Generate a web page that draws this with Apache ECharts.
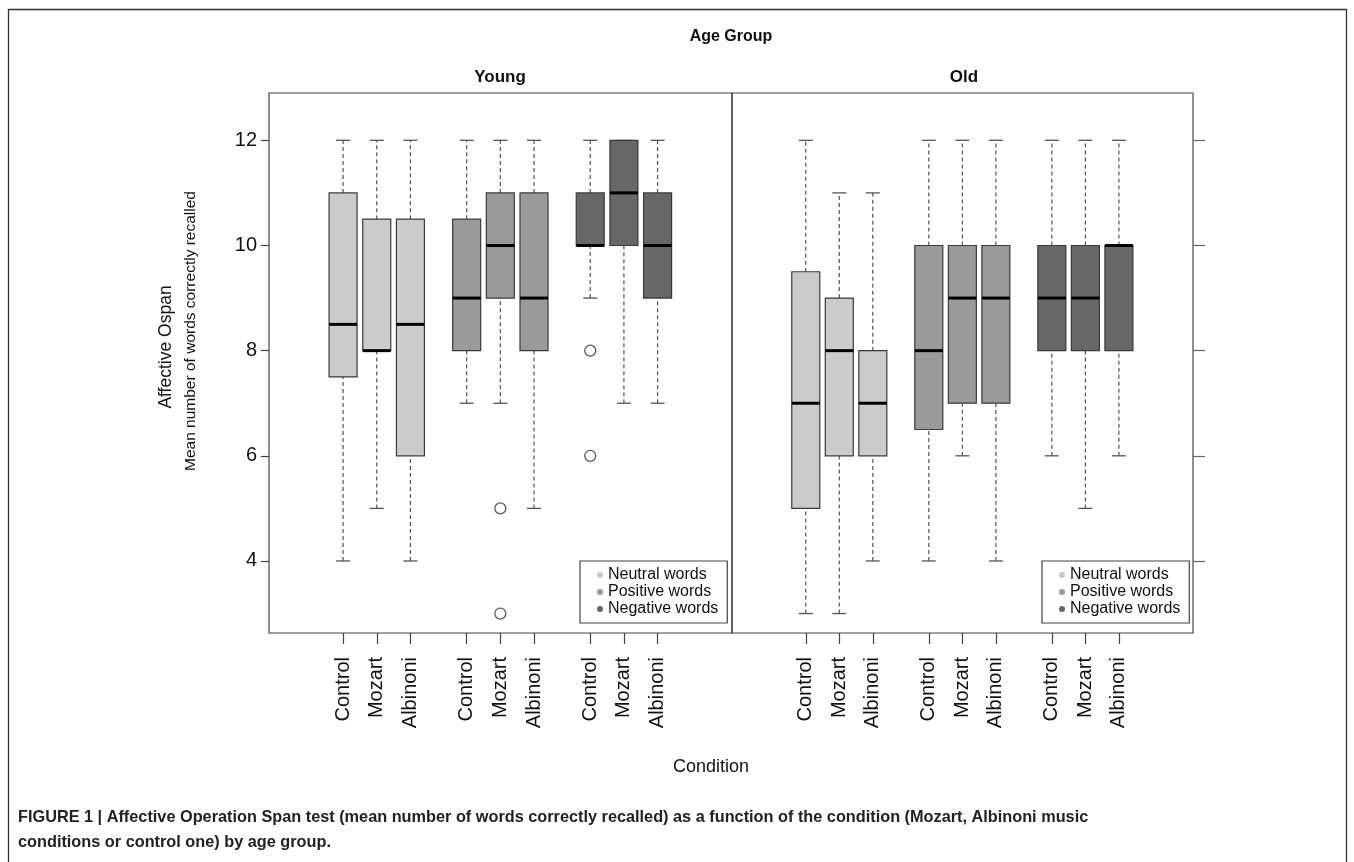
<!DOCTYPE html>
<html><head><meta charset="utf-8">
<script src="https://cdn.jsdelivr.net/npm/echarts@6/dist/echarts.min.js"></script>
<style>html,body{margin:0;padding:0;background:#fff}#c{width:1354px;height:862px}</style>
</head><body><div id="c"></div>
<script>
// ---------- data ----------
const panels = ['Young', 'Old'];
const groups = ['Neutral words', 'Positive words', 'Negative words'];
const conditions = ['Control', 'Mozart', 'Albinoni'];
const groupColors = ['#cbcbcb', '#9a9a9a', '#676767'];
// each row: [lower whisker, Q1, median, Q3, upper whisker] for Control, Mozart, Albinoni
const youngNeutral  = [[4, 7.5, 8.5, 11, 12], [5, 8, 8, 10.5, 12], [4, 6, 8.5, 10.5, 12]];
const youngPositive = [[7, 8, 9, 10.5, 12], [7, 9, 10, 11, 12], [5, 8, 9, 11, 12]];
const youngNegative = [[9, 10, 10, 11, 12], [7, 10, 11, 12, 12], [7, 9, 10, 11, 12]];
const oldNeutral    = [[3, 5, 7, 9.5, 12], [3, 6, 8, 9, 11], [4, 6, 7, 8, 11]];
const oldPositive   = [[4, 6.5, 8, 10, 12], [6, 7, 9, 10, 12], [4, 7, 9, 10, 12]];
const oldNegative   = [[6, 8, 9, 10, 12], [5, 8, 9, 10, 12], [6, 8, 10, 10, 12]];
// outliers: [group index, condition index, value]
const youngOutliers = [[1, 1, 5], [1, 1, 3], [2, 0, 8], [2, 0, 6]];
const oldOutliers = [];
const yTicks = [4, 6, 8, 10, 12];

const panelData = [[youngNeutral, youngPositive, youngNegative], [oldNeutral, oldPositive, oldNegative]];
const panelOutliers = [youngOutliers, oldOutliers];

// ---------- layout helpers ----------
const GROUP_STEP = 3.67;
function pos(g, c) { return g * GROUP_STEP + c + 1; }
const tickPositions = [];
for (let g = 0; g < 3; g++) for (let c = 0; c < 3; c++) tickPositions.push(pos(g, c));
function labelFor(v) {
  for (let i = 0; i < tickPositions.length; i++) if (Math.abs(tickPositions[i] - v) < 1e-6) return conditions[i % 3];
  return '';
}
const narrow = '"Liberation Sans Narrow", "Arial Narrow", "Liberation Sans", sans-serif';
const regular = '"Liberation Sans", Arial, sans-serif';

function renderBox(params, api) {
  const x = api.value(0);
  const pLo = api.coord([x, api.value(1)]);
  const pQ1 = api.coord([x, api.value(2)]);
  const pMd = api.coord([x, api.value(3)]);
  const pQ3 = api.coord([x, api.value(4)]);
  const pHi = api.coord([x, api.value(5)]);
  const cx = pLo[0];
  const hw = 14, cap = 7;
  const dash = { stroke: '#555', lineWidth: 1.2, lineDash: [4, 3] };
  const solid = { stroke: '#555', lineWidth: 1.3 };
  return {
    type: 'group',
    children: [
      { type: 'line', shape: { x1: cx, y1: pQ3[1], x2: cx, y2: pHi[1] }, style: dash },
      { type: 'line', shape: { x1: cx, y1: pLo[1], x2: cx, y2: pQ1[1] }, style: dash },
      { type: 'line', shape: { x1: cx - cap, y1: pHi[1], x2: cx + cap, y2: pHi[1] }, style: solid },
      { type: 'line', shape: { x1: cx - cap, y1: pLo[1], x2: cx + cap, y2: pLo[1] }, style: solid },
      { type: 'rect', shape: { x: cx - hw, y: pQ3[1], width: hw * 2, height: pQ1[1] - pQ3[1] },
        style: { fill: api.visual('color'), stroke: '#3a3a3a', lineWidth: 1.2 } },
      { type: 'line', shape: { x1: cx - hw, y1: pMd[1], x2: cx + hw, y2: pMd[1] }, style: { stroke: '#000', lineWidth: 3 } }
    ]
  };
}

const grids = [
  { left: 269, top: 93, width: 463, height: 540 },
  { left: 732, top: 93, width: 461, height: 540 }
].map(g => Object.assign(g, { show: true, borderColor: '#444', borderWidth: 1.2, backgroundColor: 'transparent' }));

const xAxes = [0, 1].map(p => ({
  type: 'value', gridIndex: p, min: -1.2, max: 12.55, position: 'bottom',
  axisLine: { show: false, onZero: false }, splitLine: { show: false },
  axisTick: { show: true, customValues: tickPositions, length: 11, lineStyle: { color: '#444', width: 1.2 } },
  axisLabel: { show: true, customValues: tickPositions, rotate: 90, margin: 24, formatter: labelFor,
    fontSize: 20, color: '#111', fontFamily: regular }
}));

const yAxes = [
  { type: 'value', gridIndex: 0, min: 2.63, max: 12.9, position: 'left',
    axisLine: { show: false, onZero: false }, splitLine: { show: false },
    axisTick: { show: true, customValues: yTicks, length: 8, lineStyle: { color: '#444', width: 1.2 } },
    axisLabel: { show: true, customValues: yTicks, margin: 12, fontSize: 20, color: '#111', fontFamily: regular } },
  { type: 'value', gridIndex: 1, min: 2.63, max: 12.9, position: 'right',
    axisLine: { show: false, onZero: false }, splitLine: { show: false },
    axisTick: { show: true, customValues: yTicks, length: 12, lineStyle: { color: '#666', width: 1.2 } },
    axisLabel: { show: false } }
];

const series = [];
for (let p = 0; p < 2; p++) {
  for (let g = 0; g < 3; g++) {
    series.push({
      type: 'custom', name: groups[g], xAxisIndex: p, yAxisIndex: p,
      itemStyle: { color: groupColors[g] },
      renderItem: renderBox,
      encode: { x: 0, y: [1, 2, 3, 4, 5] },
      data: panelData[p][g].map((s, c) => [pos(g, c)].concat(s)),
      z: 2
    });
  }
  if (panelOutliers[p].length) {
    series.push({
      type: 'scatter', name: 'outliers', xAxisIndex: p, yAxisIndex: p,
      symbol: 'circle', symbolSize: 11,
      itemStyle: { color: '#fff', borderColor: '#333', borderWidth: 1.3 },
      data: panelOutliers[p].map(o => [pos(o[0], o[1]), o[2]]),
      z: 3
    });
  }
}

const legendBase = {
  data: groups, orient: 'vertical', top: 561, icon: 'circle', itemWidth: 6, itemHeight: 6, itemGap: 1,
  padding: [6, 9, 6, 17], backgroundColor: '#fff', borderColor: '#444', borderWidth: 1.2, borderRadius: 0,
  selectedMode: false, textStyle: { fontSize: 16, color: '#111', fontFamily: regular }, z: 5
};

const chart = echarts.init(document.getElementById('c'));
chart.setOption({
  backgroundColor: '#fff',
  animation: false,
  grid: grids, xAxis: xAxes, yAxis: yAxes,
  legend: [Object.assign({ left: 580 }, legendBase), Object.assign({ left: 1042 }, legendBase)],
  series: series,
  graphic: [
    { type: 'rect', shape: { x: 8.5, y: 9.5, width: 1338, height: 900 }, style: { fill: 'none', stroke: '#333', lineWidth: 1.3 }, silent: true },
    { type: 'text', x: 731, y: 37, style: { text: 'Age Group', font: 'bold 16px ' + narrow, fill: '#111', align: 'center', verticalAlign: 'middle' } },
    { type: 'text', x: 500, y: 77, style: { text: panels[0], font: 'bold 17px ' + narrow, fill: '#111', align: 'center', verticalAlign: 'middle' } },
    { type: 'text', x: 964, y: 77, style: { text: panels[1], font: 'bold 17px ' + narrow, fill: '#111', align: 'center', verticalAlign: 'middle' } },
    { type: 'text', x: 166, y: 347, rotation: Math.PI / 2, style: { text: 'Affective Ospan', font: '17.5px ' + regular, fill: '#111', align: 'center', verticalAlign: 'middle' } },
    { type: 'text', x: 191, y: 331, rotation: Math.PI / 2, style: { text: 'Mean number of words correctly recalled', font: '15.5px ' + regular, fill: '#111', align: 'center', verticalAlign: 'middle' } },
    { type: 'text', x: 711, y: 767, style: { text: 'Condition', font: '18px ' + narrow, fill: '#111', align: 'center', verticalAlign: 'middle' } },
    { type: 'text', x: 18, y: 818, style: { text: 'FIGURE 1 | Affective Operation Span test (mean number of words correctly recalled) as a function of the condition (Mozart, Albinoni music', font: 'bold 16.3px ' + narrow, fill: '#222', align: 'left', verticalAlign: 'middle' } },
    { type: 'text', x: 18, y: 843, style: { text: 'conditions or control one) by age group.', font: 'bold 16.3px ' + narrow, fill: '#222', align: 'left', verticalAlign: 'middle' } }
  ]
});
</script>
</body></html>
